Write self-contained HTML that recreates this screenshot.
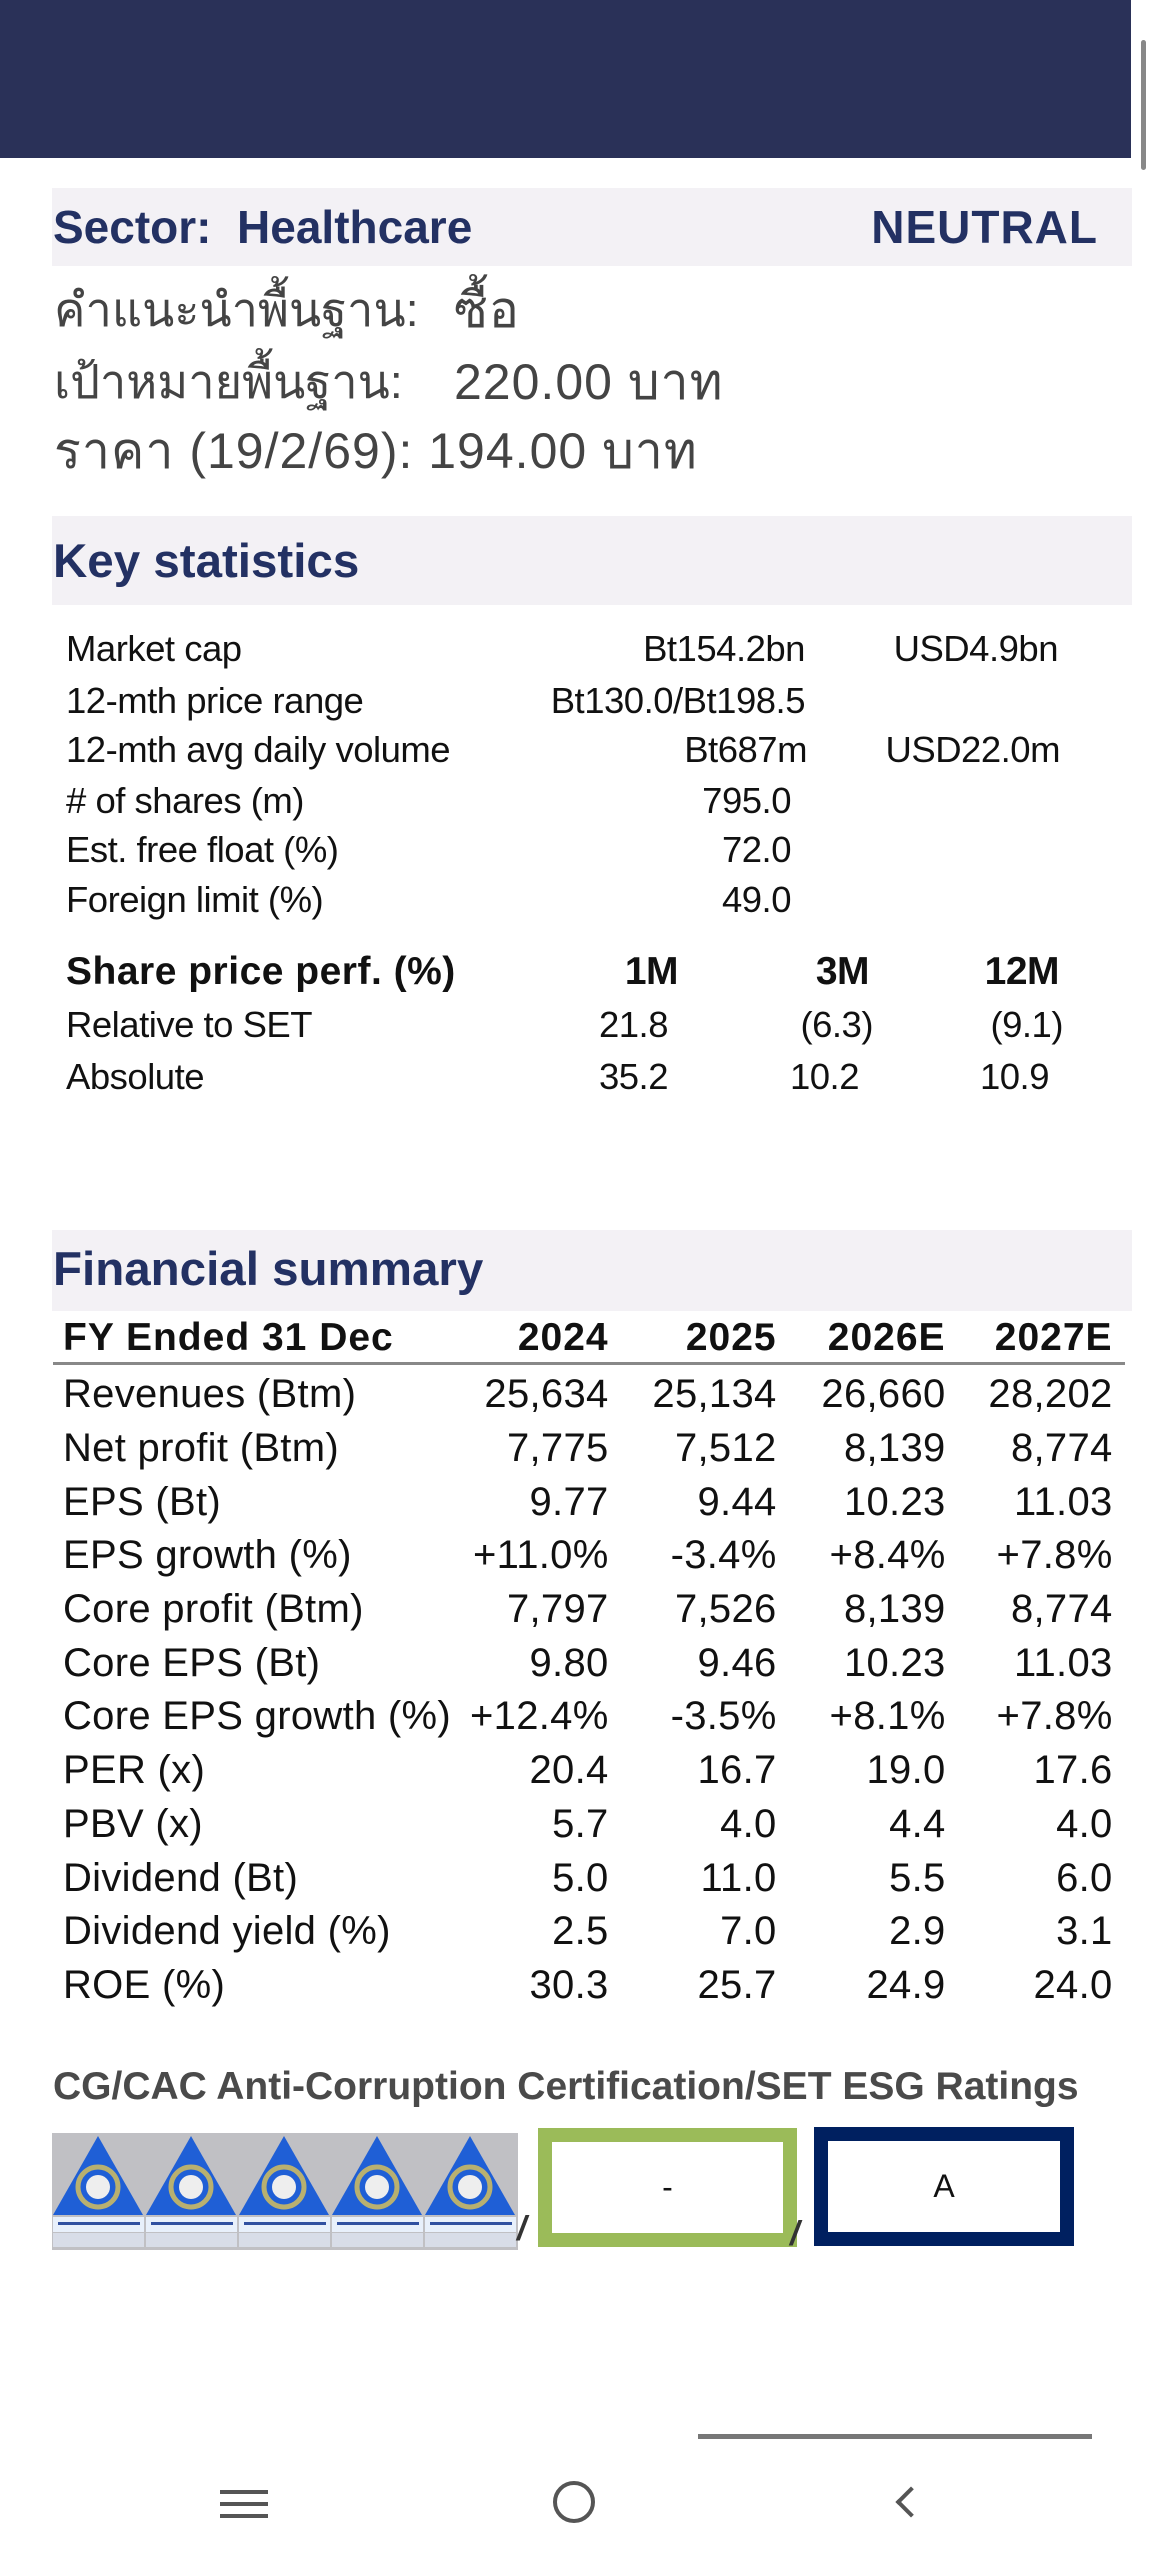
<!DOCTYPE html>
<html><head><meta charset="utf-8"><style>
*{margin:0;padding:0;box-sizing:border-box}
body{width:1152px;height:2560px;position:relative;background:#fff;font-family:"Liberation Sans",Arial,sans-serif;overflow:hidden}
.a{position:absolute;white-space:nowrap}
.band{position:absolute;left:52px;width:1080px;background:#f3f1f5}
.t{color:#233163;font-weight:bold}
.ks{font-size:36.5px;color:#111;letter-spacing:-0.5px}
.r{text-align:right}
.th{font-family:"Liberation Sans","Noto Sans CJK SC","DejaVu Sans",sans-serif;font-size:50px;color:#444;letter-spacing:1px}
</style></head><body>
<div class="a" style="left:0;top:0;width:1131px;height:158px;background:#2a3158"></div>
<div class="a" style="left:1141px;top:40px;width:5px;height:130px;background:#888;border-radius:3px"></div>

<div class="band" style="top:188px;height:78px"></div>
<div class="a t" style="left:53px;top:200px;font-size:46px;line-height:54px">Sector:&nbsp; Healthcare</div>
<div class="a t r" style="left:700px;width:398px;top:200px;font-size:46px;line-height:54px;letter-spacing:1px">NEUTRAL</div>

<div class="a th" style="left:54px;top:280px;line-height:60px;font-size:47px;letter-spacing:0">คำแนะนำพื้นฐาน:</div>
<div class="a th" style="left:454px;top:280px;line-height:60px">ซื้อ</div>
<div class="a th" style="left:54px;top:352px;line-height:60px;font-size:47px;letter-spacing:0">เป้าหมายพื้นฐาน:</div>
<div class="a th" style="left:454px;top:352px;line-height:60px">220.00 บาท</div>
<div class="a th" style="left:54px;top:421px;line-height:60px">ราคา (19/2/69): 194.00 บาท</div>

<div class="band" style="top:516px;height:89px"></div>
<div class="a t" style="left:53px;top:533px;font-size:47.5px;line-height:58px">Key statistics</div>

<div class="a ks" style="left:66px;top:629px;line-height:40px">Market cap</div>
<div class="a ks" style="left:66px;top:681px;line-height:40px">12-mth price range</div>
<div class="a ks" style="left:66px;top:730px;line-height:40px">12-mth avg daily volume</div>
<div class="a ks" style="left:66px;top:781px;line-height:40px"># of shares (m)</div>
<div class="a ks" style="left:66px;top:830px;line-height:40px">Est. free float (%)</div>
<div class="a ks" style="left:66px;top:880px;line-height:40px">Foreign limit (%)</div>
<div class="a ks r" style="left:505px;width:300px;top:629px;line-height:40px">Bt154.2bn</div>
<div class="a ks r" style="left:505px;width:300px;top:681px;line-height:40px">Bt130.0/Bt198.5</div>
<div class="a ks r" style="left:505px;width:302px;top:730px;line-height:40px">Bt687m</div>
<div class="a ks r" style="left:505px;width:286px;top:781px;line-height:40px">795.0</div>
<div class="a ks r" style="left:505px;width:286px;top:830px;line-height:40px">72.0</div>
<div class="a ks r" style="left:505px;width:286px;top:880px;line-height:40px">49.0</div>
<div class="a ks r" style="left:858px;width:200px;top:629px;line-height:40px">USD4.9bn</div>
<div class="a ks r" style="left:858px;width:202px;top:730px;line-height:40px">USD22.0m</div>

<div class="a ks" style="left:66px;top:952px;line-height:40px;font-weight:bold;font-size:39px;letter-spacing:0.5px">Share price perf. (%)</div>
<div class="a ks" style="left:66px;top:1005px;line-height:40px">Relative to SET</div>
<div class="a ks" style="left:66px;top:1057px;line-height:40px">Absolute</div>
<div class="a ks r" style="left:578px;width:100px;top:952px;line-height:40px;font-weight:bold;font-size:39px">1M</div>
<div class="a ks r" style="left:769px;width:100px;top:952px;line-height:40px;font-weight:bold;font-size:39px">3M</div>
<div class="a ks r" style="left:959px;width:100px;top:952px;line-height:40px;font-weight:bold;font-size:39px">12M</div>
<div class="a ks r" style="left:568px;width:100px;top:1005px;line-height:40px">21.8</div>
<div class="a ks r" style="left:773px;width:100px;top:1005px;line-height:40px">(6.3)</div>
<div class="a ks r" style="left:963px;width:100px;top:1005px;line-height:40px">(9.1)</div>
<div class="a ks r" style="left:568px;width:100px;top:1057px;line-height:40px">35.2</div>
<div class="a ks r" style="left:759px;width:100px;top:1057px;line-height:40px">10.2</div>
<div class="a ks r" style="left:949px;width:100px;top:1057px;line-height:40px">10.9</div>

<div class="band" style="top:1230px;height:81px"></div>
<div class="a t" style="left:53px;top:1241px;font-size:47.5px;line-height:58px">Financial summary</div>

<div class="a" style="left:53px;top:1362px;width:1072px;height:3px;background:#888"></div>

<div class="a" style="left:0;top:1314px;width:1152px">
<table style="position:absolute;left:63px;border-collapse:collapse;font-size:40px;color:#111;letter-spacing:0.3px">
<colgroup><col style="width:407px"><col style="width:128px"><col style="width:168px"><col style="width:169px"><col style="width:167px"></colgroup>
<tr style="height:48px;font-weight:bold;font-size:39px;letter-spacing:1px"><td>FY Ended 31 Dec</td><td class="r">2024</td><td class="r">2025</td><td class="r">2026E</td><td class="r">2027E</td></tr>
<tr style="height:6px"><td colspan="5"></td></tr>
<tr style="height:53.7px"><td>Revenues (Btm)</td><td class="r">25,634</td><td class="r">25,134</td><td class="r">26,660</td><td class="r">28,202</td></tr>
<tr style="height:53.7px"><td>Net profit (Btm)</td><td class="r">7,775</td><td class="r">7,512</td><td class="r">8,139</td><td class="r">8,774</td></tr>
<tr style="height:53.7px"><td>EPS (Bt)</td><td class="r">9.77</td><td class="r">9.44</td><td class="r">10.23</td><td class="r">11.03</td></tr>
<tr style="height:53.7px"><td>EPS growth (%)</td><td class="r">+11.0%</td><td class="r">-3.4%</td><td class="r">+8.4%</td><td class="r">+7.8%</td></tr>
<tr style="height:53.7px"><td>Core profit (Btm)</td><td class="r">7,797</td><td class="r">7,526</td><td class="r">8,139</td><td class="r">8,774</td></tr>
<tr style="height:53.7px"><td>Core EPS (Bt)</td><td class="r">9.80</td><td class="r">9.46</td><td class="r">10.23</td><td class="r">11.03</td></tr>
<tr style="height:53.7px"><td>Core EPS growth (%)</td><td class="r">+12.4%</td><td class="r">-3.5%</td><td class="r">+8.1%</td><td class="r">+7.8%</td></tr>
<tr style="height:53.7px"><td>PER (x)</td><td class="r">20.4</td><td class="r">16.7</td><td class="r">19.0</td><td class="r">17.6</td></tr>
<tr style="height:53.7px"><td>PBV (x)</td><td class="r">5.7</td><td class="r">4.0</td><td class="r">4.4</td><td class="r">4.0</td></tr>
<tr style="height:53.7px"><td>Dividend (Bt)</td><td class="r">5.0</td><td class="r">11.0</td><td class="r">5.5</td><td class="r">6.0</td></tr>
<tr style="height:53.7px"><td>Dividend yield (%)</td><td class="r">2.5</td><td class="r">7.0</td><td class="r">2.9</td><td class="r">3.1</td></tr>
<tr style="height:53.7px"><td>ROE (%)</td><td class="r">30.3</td><td class="r">25.7</td><td class="r">24.9</td><td class="r">24.0</td></tr>
</table></div>

<div class="a" style="left:53px;top:2064px;font-size:39px;line-height:46px;font-weight:bold;color:#4a4a4a">CG/CAC Anti-Corruption Certification/SET ESG Ratings</div>

<svg class="a" style="left:52px;top:2133px" width="466" height="117" viewBox="0 0 466 117">
<rect width="466" height="117" fill="#c0c0c4"/>
<g id="tr">
<polygon points="46,3 91,82 1,82" fill="#1f5fd6"/>
<circle cx="46" cy="54" r="20" fill="none" stroke="#b8b070" stroke-width="5"/>
<circle cx="46" cy="54" r="12" fill="#eee"/>
<rect x="1" y="84" width="91" height="15" fill="#e8f0fb"/>
<rect x="6" y="89" width="82" height="3" fill="#3050a0"/>
<rect x="1" y="100" width="91" height="14" fill="#d8dde8"/>
</g>
<use href="#tr" x="93"/><use href="#tr" x="186"/><use href="#tr" x="279"/><use href="#tr" x="372"/>
</svg>
<div class="a" style="left:517px;top:2210px;font-size:34px;color:#333;font-style:italic;font-weight:bold">/</div>
<div class="a" style="left:538px;top:2128px;width:259px;height:119px;border:14px solid #9bbb59;font-size:32px;text-align:center;line-height:91px;color:#111">-</div>
<div class="a" style="left:790px;top:2215px;font-size:34px;color:#333;font-style:italic;font-weight:bold">/</div>
<div class="a" style="left:814px;top:2127px;width:260px;height:119px;border:14px solid #002060;font-size:32px;text-align:center;line-height:91px;color:#111">A</div>

<div class="a" style="left:698px;top:2434px;width:394px;height:5px;background:#777"></div>
<div class="a" style="left:220px;top:2490px;width:48px;height:4px;background:#555;box-shadow:0 12px 0 #555,0 24px 0 #555"></div>
<div class="a" style="left:553px;top:2481px;width:42px;height:42px;border:4px solid #555;border-radius:50%"></div>
<div class="a" style="left:900px;top:2491px;width:22px;height:22px;border-left:4px solid #555;border-bottom:4px solid #555;transform:rotate(45deg)"></div>
</body></html>
